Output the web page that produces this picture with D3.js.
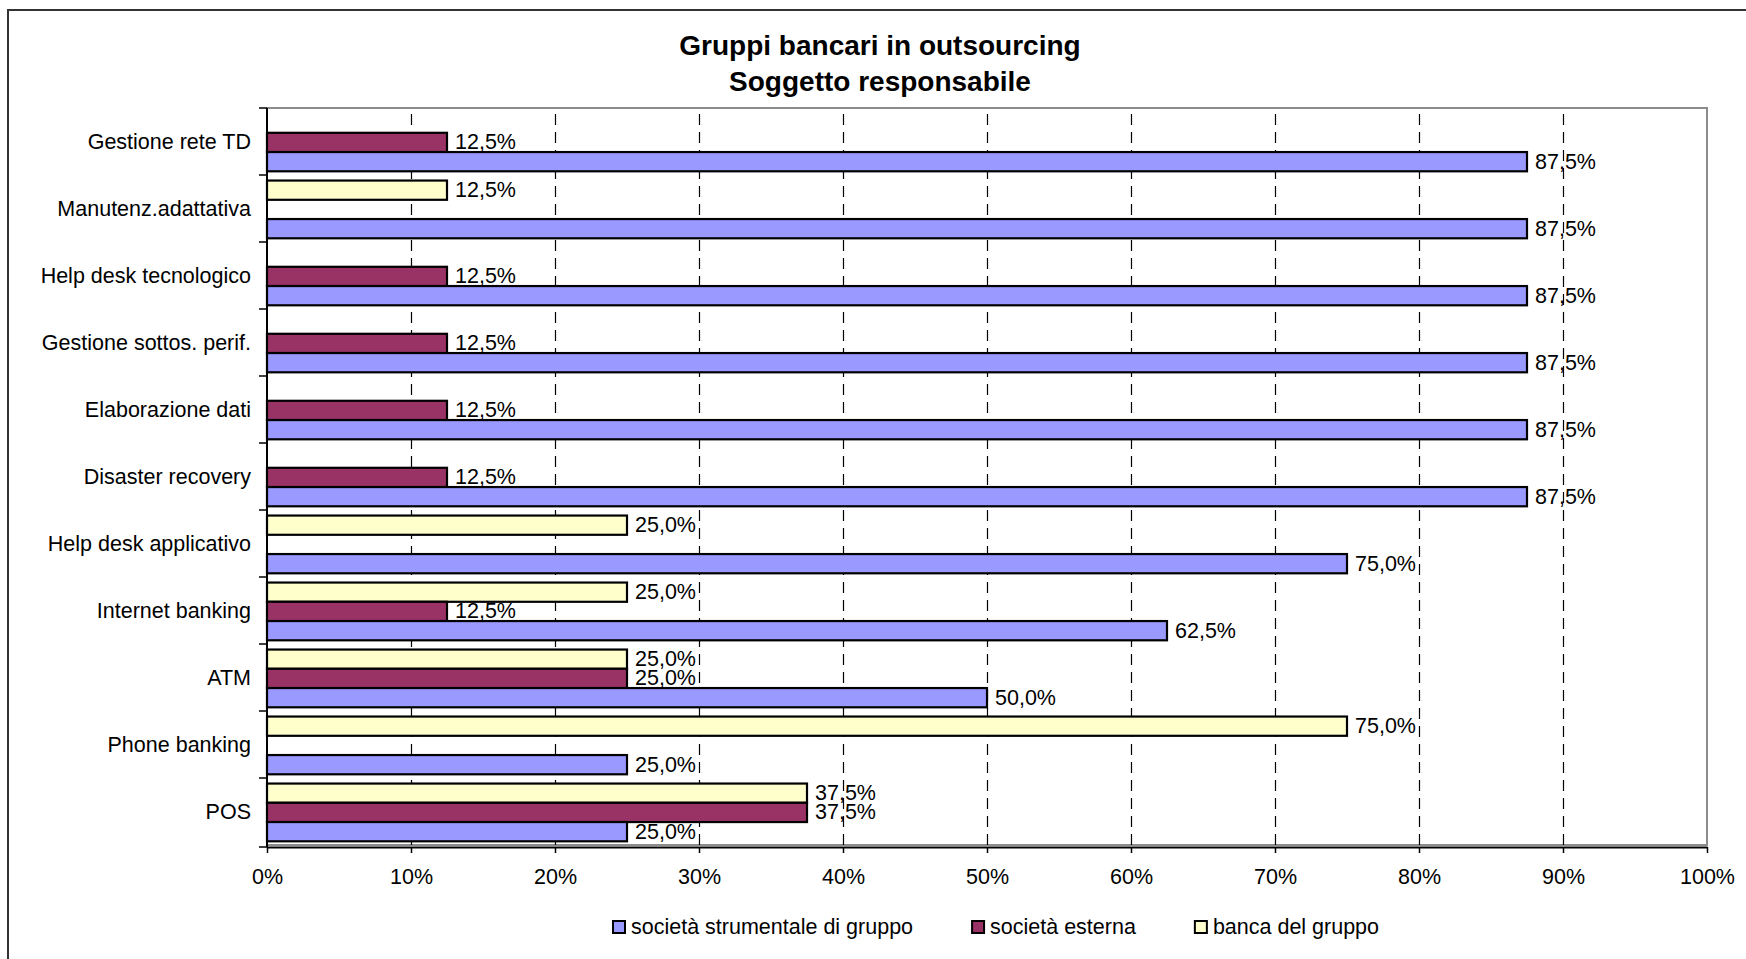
<!DOCTYPE html>
<html>
<head>
<meta charset="utf-8">
<script src="https://cdn.jsdelivr.net/npm/d3@7"></script>
<style>
  html, body { margin: 0; padding: 0; background: #fff; }
  svg { display: block; font-family: "Liberation Sans", Arial, sans-serif; }
</style>
</head>
<body>
<svg id="chart" width="1746" height="959"></svg>
<script>
// ---- data ----
const titleLines = ["Gruppi bancari in outsourcing", "Soggetto responsabile"];
const categories = [
  "Gestione rete TD", "Manutenz.adattativa", "Help desk tecnologico",
  "Gestione sottos. perif.", "Elaborazione dati", "Disaster recovery",
  "Help desk applicativo", "Internet banking", "ATM", "Phone banking", "POS"
];
const seriesNames = ["società strumentale di gruppo", "società esterna", "banca del gruppo"];
const seriesKeys = ["strumentale", "esterna", "banca"];
const strumentale = [87.5, 87.5, 87.5, 87.5, 87.5, 87.5, 75, 62.5, 50, 25, 25];
const esterna     = [12.5, 0, 12.5, 12.5, 12.5, 12.5, 0, 12.5, 25, 0, 37.5];
const banca       = [0, 12.5, 0, 0, 0, 0, 25, 25, 25, 75, 37.5];
const xTicks = [0, 10, 20, 30, 40, 50, 60, 70, 80, 90, 100];
const seriesColors = ["#9999FF", "#993366", "#FFFFCC"];

// ---- layout ----
const W = 1746, H = 959;
const plot = { left: 267, right: 1707, top: 108, bottom: 845 };
const FONT = 21.5;

const svg = d3.select("#chart");

// outer chart border (extends beyond right/bottom edges like the reference)
svg.append("rect")
  .attr("x", 8).attr("y", 10)
  .attr("width", W + 20).attr("height", H + 20)
  .attr("fill", "#fff").attr("stroke", "#333").attr("stroke-width", 2);

// title
svg.append("g").selectAll("text").data(titleLines).join("text")
  .attr("x", 880).attr("y", (d, i) => 55 + i * 36)
  .attr("text-anchor", "middle")
  .attr("font-weight", "bold").attr("font-size", 28)
  .attr("fill", "#000")
  .text(d => d);

// scales
const x = d3.scaleLinear().domain([0, 100]).range([plot.left, plot.right]);
const y0 = d3.scaleBand().domain(categories).range([plot.top, plot.bottom]).padding(0);
const drawOrder = ["banca", "esterna", "strumentale"]; // top to bottom within a group
const y1 = d3.scaleBand().domain(drawOrder).range([0, y0.bandwidth()])
  .paddingInner(0).paddingOuter(0.24).align(0.6);

const seriesData = { strumentale, esterna, banca };
const colorOf = k => seriesColors[seriesKeys.indexOf(k)];

// plot area frame (grey)
svg.append("rect")
  .attr("x", plot.left).attr("y", plot.top)
  .attr("width", plot.right - plot.left).attr("height", plot.bottom - plot.top)
  .attr("fill", "#fff").attr("stroke", "#8c8c8c").attr("stroke-width", 2);

// gridlines
const grid = svg.append("g")
  .attr("transform", `translate(0,${plot.bottom})`)
  .call(d3.axisBottom(x).tickValues(xTicks.filter(t => t > 0 && t < 100))
    .tickSize(-(plot.bottom - plot.top)).tickFormat(""));
grid.select(".domain").remove();
grid.selectAll(".tick line")
  .attr("stroke", "#000").attr("stroke-width", 1.2)
  .attr("stroke-dasharray", "11,7");

// bars
const rows = [];
categories.forEach((c, i) => {
  drawOrder.forEach(k => {
    const v = seriesData[k][i];
    if (v > 0) rows.push({ c, k, v });
  });
});

svg.append("g").selectAll("rect").data(rows).join("rect")
  .attr("x", x(0))
  .attr("y", d => y0(d.c) + y1(d.k))
  .attr("width", d => x(d.v) - x(0))
  .attr("height", y1.bandwidth())
  .attr("fill", d => colorOf(d.k))
  .attr("stroke", "#000").attr("stroke-width", 2.2);

// data labels
const fmt = v => d3.format(".1f")(v).replace(".", ",") + "%";
svg.append("g").selectAll("text").data(rows).join("text")
  .attr("x", d => x(d.v) + 8)
  .attr("y", d => y0(d.c) + y1(d.k) + y1.bandwidth() / 2)
  .attr("dominant-baseline", "central")
  .attr("font-size", FONT).attr("fill", "#000")
  .text(d => fmt(d.v));

// x axis
const xAxis = svg.append("g")
  .attr("transform", `translate(0,${plot.bottom + 2})`)
  .call(d3.axisBottom(x).tickValues(xTicks).tickFormat(d => d + "%")
    .tickSize(6).tickPadding(16).tickSizeOuter(0));
xAxis.select(".domain").attr("stroke", "#000").attr("stroke-width", 2);
xAxis.selectAll(".tick line").attr("stroke", "#000").attr("stroke-width", 1.5);
xAxis.selectAll(".tick text")
  .attr("font-size", FONT).attr("font-family", "Liberation Sans, Arial, sans-serif")
  .attr("fill", "#000");

// y (category) axis
const yAxis = svg.append("g");
yAxis.append("line")
  .attr("x1", plot.left).attr("x2", plot.left)
  .attr("y1", plot.top).attr("y2", plot.bottom + 2)
  .attr("stroke", "#000").attr("stroke-width", 2);
const boundaries = categories.map(c => y0(c)).concat([plot.bottom + 2]);
yAxis.selectAll("line.tick").data(boundaries).join("line")
  .attr("class", "tick")
  .attr("x1", plot.left - 8).attr("x2", plot.left)
  .attr("y1", d => d).attr("y2", d => d)
  .attr("stroke", "#000").attr("stroke-width", 1.5);
yAxis.selectAll("text").data(categories).join("text")
  .attr("x", 251)
  .attr("y", d => y0(d) + y0.bandwidth() / 2)
  .attr("text-anchor", "end")
  .attr("dominant-baseline", "central")
  .attr("font-size", FONT).attr("fill", "#000")
  .text(d => d);

// legend
const legend = svg.append("g");
const items = legend.selectAll("g").data(seriesNames).join("g");
items.append("rect")
  .attr("width", 12).attr("height", 12)
  .attr("y", -6)
  .attr("fill", (d, i) => seriesColors[i])
  .attr("stroke", "#000").attr("stroke-width", 2);
items.append("text")
  .attr("x", 18).attr("y", 0)
  .attr("dominant-baseline", "central")
  .attr("font-size", FONT).attr("fill", "#000")
  .text(d => d);
const gap = 59;
const widths = [];
items.each(function () {
  widths.push(18 + this.querySelector("text").getComputedTextLength());
});
let start = 613;
items.attr("transform", (d, i) => {
  const tx = start;
  start += widths[i] + gap;
  return `translate(${tx},927)`;
});
</script>
</body>
</html>
